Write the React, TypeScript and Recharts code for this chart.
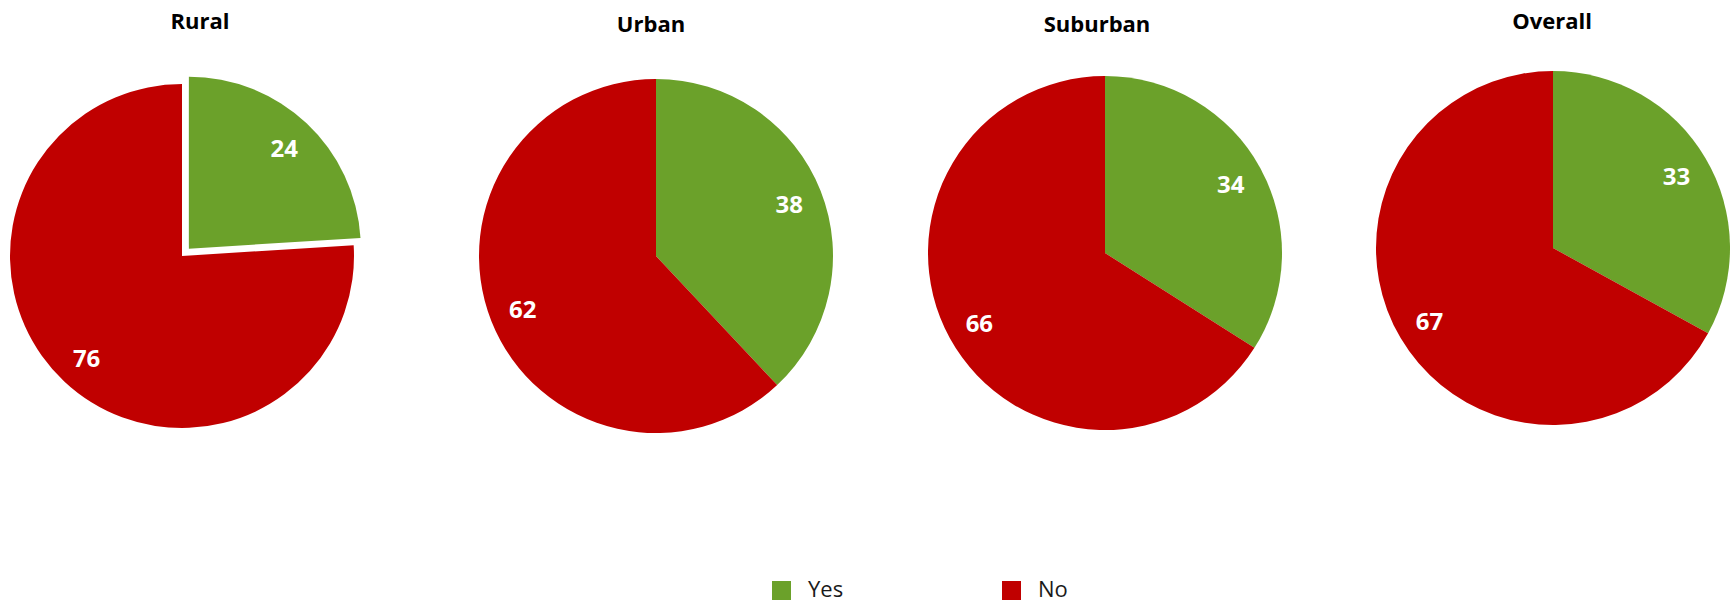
import React from 'react';
import { PieChart, Pie, Cell, Sector, Legend } from 'recharts';

const regions = ['Rural', 'Urban', 'Suburban', 'Overall'];
const categories = ['Yes', 'No'];
const yesValues = [24, 38, 34, 33];
const noValues = [76, 62, 66, 67];
const explodedYes = [true, false, false, false];
const colors = ['#6BA12A', '#C00000'];

// layout only
const layout = [
  { cx: 182, cy: 256, r: 172, tx: 200, ty: 29 },
  { cx: 656, cy: 256, r: 177, tx: 651, ty: 32 },
  { cx: 1105, cy: 253, r: 177, tx: 1097, ty: 32 },
  { cx: 1553, cy: 248, r: 177, tx: 1552, ty: 29 },
];
const EXPLODE = 10;
const RAD = Math.PI / 180;
const FONT = '"Open Sans", "Noto Sans", sans-serif';

const W = 1735;
const H = 603;

function offsetFor(props: any) {
  if (props.payload && props.payload.explode) {
    return {
      dx: EXPLODE * Math.cos(-props.midAngle * RAD),
      dy: EXPLODE * Math.sin(-props.midAngle * RAD),
    };
  }
  return { dx: 0, dy: 0 };
}

const renderShape = (props: any) => {
  const { dx, dy } = offsetFor(props);
  return <Sector {...props} cx={props.cx + dx} cy={props.cy + dy} stroke="none" />;
};

const renderLabel = (props: any) => {
  const { cx, cy, midAngle, outerRadius, value } = props;
  const { dx, dy } = offsetFor(props);
  const rr = outerRadius * 0.81;
  const x = cx + dx + rr * Math.cos(-midAngle * RAD);
  const y = cy + dy + rr * Math.sin(-midAngle * RAD);
  return (
    <text
      x={x}
      y={y}
      fill="#ffffff"
      textAnchor="middle"
      dominantBaseline="central"
      style={{ fontFamily: FONT, fontWeight: 700, fontSize: 24 }}
    >
      {value}
    </text>
  );
};

const legendPos = [
  { sx: 772, tx: 808 },
  { sx: 1002, tx: 1038 },
];

const renderLegend = () => (
  <div style={{ position: 'relative', width: W, height: 28 }}>
    {categories.map((c, i) => (
      <React.Fragment key={c}>
        <div
          style={{
            position: 'absolute',
            left: legendPos[i].sx,
            top: 6,
            width: 19,
            height: 19,
            background: colors[i],
          }}
        />
        <div
          style={{
            position: 'absolute',
            left: legendPos[i].tx,
            top: -2,
            fontFamily: FONT,
            fontSize: 22,
            color: '#1a1a1a',
            lineHeight: '30px',
            whiteSpace: 'nowrap',
          }}
        >
          {c}
        </div>
      </React.Fragment>
    ))}
  </div>
);

export default function App() {
  return (
    <div style={{ position: 'absolute', left: 0, top: 0, width: W, height: H, background: '#fff', overflow: 'hidden' }}>
      <PieChart width={W} height={H} margin={{ top: 0, right: 0, bottom: 0, left: 0 }}>
        {regions.map((reg, i) => {
          const data = categories.map((c, k) => ({
            name: c,
            value: k === 0 ? yesValues[i] : noValues[i],
            explode: k === 0 ? explodedYes[i] : false,
          }));
          const L = layout[i];
          return (
            <Pie
              key={reg}
              data={data}
              dataKey="value"
              nameKey="name"
              cx={L.cx}
              cy={L.cy}
              outerRadius={L.r}
              innerRadius={0}
              startAngle={90}
              endAngle={-270}
              stroke="none"
              isAnimationActive={false}
              labelLine={false}
              label={renderLabel}
              shape={renderShape}
              legendType="none"
            >
              {data.map((d, k) => (
                <Cell key={d.name} fill={colors[k]} />
              ))}
            </Pie>
          );
        })}
        {regions.map((reg, i) => (
          <text
            key={'t' + reg}
            x={layout[i].tx}
            y={layout[i].ty}
            textAnchor="middle"
            fill="#000"
            style={{ fontFamily: FONT, fontWeight: 700, fontSize: 22 }}
          >
            {reg}
          </text>
        ))}
        <Legend
          content={renderLegend}
          wrapperStyle={{ position: 'absolute', left: 0, top: 575, width: W, height: 28 }}
        />
      </PieChart>
    </div>
  );
}
